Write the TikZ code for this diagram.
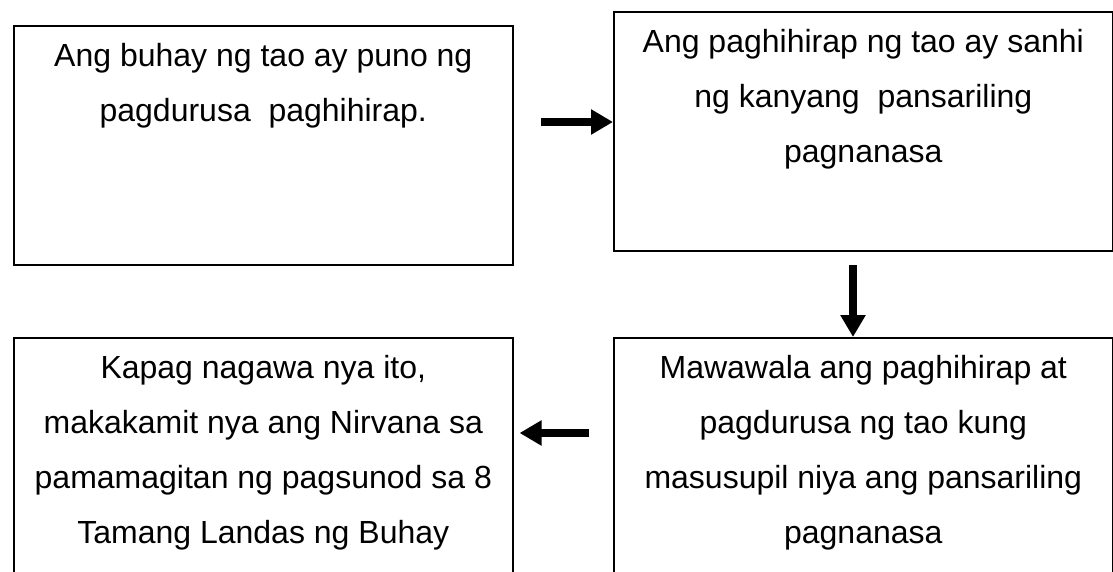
\documentclass[tikz,border=0pt]{standalone}
\usepackage{fontspec}
\setmainfont{Liberation Sans}
\usetikzlibrary{positioning}
\usetikzlibrary{calc}
\usetikzlibrary{arrows.meta}

\begin{document}
\begin{tikzpicture}
    [x=1pt, y=-1pt,
    box/.style={draw, line width=1.6pt, minimum width=499pt, minimum height=239pt, inner sep=0pt, anchor=north west},
    txt/.style={anchor=north, align=center, inner sep=0pt, font=\fontsize{32}{55}\selectfont},
    fat/.style={line width=8pt, -{Triangle[length=22pt, width=24pt]}}]
     \useasboundingbox (0,0) rectangle (1113,572);
     \clip (0,0) rectangle (1113,572);
     %\draw[step=100,gray,very thin] (0,0) grid (1113,572);
     \node[box] (b1) at (13, 25)                   {};
     \node[box] (b2) at (613, 11)                  {};
     \node[box, minimum height=280pt] (b3) at (13, 337)  {};
     \node[box, minimum height=280pt] (b4) at (613, 337) {};
     \node[txt] (t1) at ([yshift=-18pt]b1.north) {Ang buhay ng tao ay puno ng\\pagdurusa\ \ paghihirap.};
     \node[txt] (t2) at ([yshift=-18pt]b2.north) {Ang paghihirap ng tao ay sanhi\\ng kanyang\ \ pansariling\\pagnanasa};
     \node[txt] (t3) at ([yshift=-18pt]b3.north) {Kapag nagawa nya ito,\\makakamit nya ang Nirvana sa\\pamamagitan ng pagsunod sa 8\\Tamang Landas ng Buhay};
     \node[txt] (t4) at ([yshift=-18pt]b4.north) {Mawawala ang paghihirap at\\pagdurusa ng tao kung\\masusupil niya ang pansariling\\pagnanasa};
     \coordinate (a1) at (541, 122);
     \coordinate (a2) at (853, 265);
     \coordinate (a3) at (589, 433);
     \draw[fat] (a1) -- (a1 -| b2.west);
     \draw[fat] (a2) -- (a2 |- b4.north);
     \draw[fat, shorten >=6pt] (a3) -- (a3 -| b3.east);
\end{tikzpicture}
\end{document}
